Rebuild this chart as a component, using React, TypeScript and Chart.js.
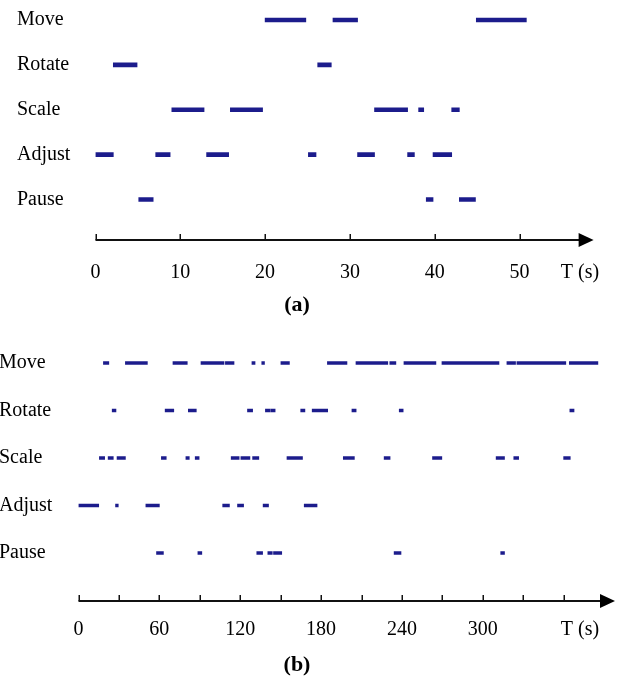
import React, { useEffect, useRef } from "react";
import { Chart, registerables } from "chart.js";

Chart.register(...registerables);

// ---------- data ----------
const rowLabels = ["Move", "Rotate", "Scale", "Adjust", "Pause"];

// Panel (a): time intervals in seconds
const moveA = [[20, 24.8], [28, 30.9], [44.9, 50.8]];
const rotateA = [[2.1, 4.9], [26.2, 27.8]];
const scaleA = [[9, 12.8], [15.9, 19.7], [32.9, 36.8], [38.1, 38.7], [42, 42.9]];
const adjustA = [[0, 2.1], [7.1, 8.8], [13.1, 15.7], [25.1, 26], [30.9, 32.9], [36.8, 37.6], [39.8, 42]];
const pauseA = [[5.1, 6.8], [39, 39.8], [42.9, 44.8]];
const tickLabelsA = [0, 10, 20, 30, 40, 50];
const tickMarksA = [0, 10, 20, 30, 40, 50];

// Panel (b)
const moveB = [[18.5, 22.5], [34.8, 51.1], [70.1, 80.7], [90.9, 108], [109, 115.4], [128.7, 131], [136, 138], [150.2, 156.5], [184.7, 199.2], [205.9, 229.5], [231, 235.5], [241.5, 265.2], [269.7, 312], [317.9, 324.3], [325.3, 361.6], [364.2, 385.4]];
const rotateB = [[25, 27.8], [64.3, 70.7], [81.5, 87.4], [125.4, 129.2], [138.7, 142], [142.6, 145.9], [164.9, 168], [173.4, 184.9], [202.9, 206], [238, 240.9], [364.6, 367.7]];
const scaleB = [[15.5, 19.4], [22, 25.8], [28.6, 34.8], [61.5, 65.1], [79.7, 82.2], [86.6, 89.5], [113.3, 119.2], [120.5, 127.2], [129.2, 133.8], [154.7, 166.2], [196.5, 204.7], [226.8, 231.2], [262.7, 269.6], [309.9, 316.1], [323, 326.6], [360, 364.9]];
const adjustB = [[0, 15], [27.5, 29.5], [50, 60], [107, 112], [118, 122.5], [137, 141], [167.5, 177]];
const pauseB = [[57.9, 63], [88.6, 91.5], [132.3, 136.6], [140.5, 143.8], [144.7, 150.8], [234.2, 239.3], [313.3, 316.1]];
const tickLabelsB = [0, 60, 120, 180, 240, 300];
const tickMarksB = [0, 30, 60, 90, 120, 150, 180, 210, 240, 270, 300, 330, 360];

const SEG_COLOR = "#1c1c8c";
const FONT = '"Liberation Serif", "Times New Roman", serif';

type Panel = {
  rows: number[][][];
  tickLabels: number[];
  tickMarks: number[];
  xMax: number;
  yMin: number;
  yMax: number;
  padLeft: number;
  padRight: number;
  yWidth: number;
  xHeight: number;
  tickPad: number;
  barThickness: number;
  tText: [number, number];
  panelText: string;
  panelPos: [number, number];
  height: number;
};

function makeArrowAxis(p: Panel) {
  return {
    id: "arrowAxis",
    afterDraw(chart: any) {
      const { ctx, chartArea } = chart;
      const xs = chart.scales.x;
      const y = chartArea.bottom;
      const x0 = xs.getPixelForValue(0);
      const tip = chartArea.right;
      ctx.save();
      ctx.strokeStyle = "#111";
      ctx.lineWidth = 2;
      ctx.beginPath();
      ctx.moveTo(x0, y);
      ctx.lineTo(tip - 10, y);
      ctx.stroke();
      ctx.lineWidth = 1.5;
      p.tickMarks.forEach((v) => {
        const px = Math.round(xs.getPixelForValue(v)) + 0.25;
        ctx.beginPath();
        ctx.moveTo(px, y);
        ctx.lineTo(px, y - 6);
        ctx.stroke();
      });
      ctx.fillStyle = "#000";
      ctx.beginPath();
      ctx.moveTo(tip, y);
      ctx.lineTo(tip - 15, y - 7);
      ctx.lineTo(tip - 15, y + 7);
      ctx.closePath();
      ctx.fill();
      ctx.textAlign = "center";
      ctx.textBaseline = "middle";
      ctx.font = `20px ${FONT}`;
      ctx.fillText("T (s)", p.tText[0], p.tText[1]);
      ctx.font = `bold 22px ${FONT}`;
      ctx.fillText(p.panelText, p.panelPos[0], p.panelPos[1]);
      ctx.restore();
    },
  };
}

function PanelChart({ p, top }: { p: Panel; top: number }) {
  const ref = useRef<HTMLCanvasElement | null>(null);
  useEffect(() => {
    if (!ref.current) return;
    const datasets = p.rows.map((segs, i) => ({
      label: rowLabels[i],
      data: segs.map((s) => ({ x: s, y: i })),
      backgroundColor: SEG_COLOR,
      borderWidth: 0,
      barThickness: p.barThickness,
      grouped: false,
    }));
    const chart = new Chart(ref.current, {
      type: "bar",
      data: { datasets } as any,
      plugins: [makeArrowAxis(p)],
      options: {
        animation: false,
        responsive: false,
        indexAxis: "y",
        layout: { padding: { left: p.padLeft, right: p.padRight, top: 0, bottom: 0 } },
        plugins: { legend: { display: false }, tooltip: { enabled: false } },
        scales: {
          x: {
            type: "linear",
            min: 0,
            max: p.xMax,
            offset: false,
            grid: { display: false, drawTicks: false, offset: false },
            border: { display: false },
            ticks: {
              color: "#000",
              font: { family: FONT, size: 20 },
              padding: p.tickPad,
              maxRotation: 0,
              autoSkip: false,
              includeBounds: false,
              callback: (v: any) => String(v),
            },
            afterBuildTicks: (s: any) => {
              s.ticks = p.tickLabels.map((v) => ({ value: v }));
            },
            afterFit: (s: any) => {
              s.height = p.xHeight;
            },
          },
          y: {
            type: "linear",
            reverse: true,
            min: p.yMin,
            max: p.yMax,
            offset: false,
            grid: { display: false, drawTicks: false, offset: false },
            border: { display: false },
            ticks: {
              color: "#000",
              crossAlign: "far",
              padding: 0,
              autoSkip: false,
              includeBounds: false,
              font: { family: FONT, size: 20 },
              callback: (v: any) => rowLabels[v] ?? "",
            },
            afterBuildTicks: (s: any) => {
              s.ticks = rowLabels.map((_, i) => ({ value: i }));
            },
            afterFit: (s: any) => {
              s.width = p.yWidth;
              s.paddingTop = 0;
              s.paddingBottom = 0;
            },
          },
        },
      } as any,
    });
    return () => chart.destroy();
  }, [p]);
  return (
    <canvas
      ref={ref}
      width={617}
      height={p.height}
      style={{ position: "absolute", left: 0, top, width: 617, height: p.height, display: "block" }}
    />
  );
}

// panel (a): rows at 20..200, axis at 240
const panelA: Panel = {
  rows: [moveA, rotateA, scaleA, adjustA, pauseA],
  tickLabels: tickLabelsA,
  tickMarks: tickMarksA,
  xMax: 58.73,
  yMin: -0.4457,
  yMax: 4.903,
  padLeft: 17,
  padRight: 23.4,
  yWidth: 78.5,
  xHeight: 80,
  tickPad: 21,
  barThickness: 4,
  tText: [580, 273],
  panelText: "(a)",
  panelPos: [297, 305],
  height: 320,
};

// panel (b): canvas top 320; rows at 363..553, axis at 601
const panelB: Panel = {
  rows: [moveB, rotateB, scaleB, adjustB, pauseB],
  tickLabels: tickLabelsB,
  tickMarks: tickMarksB,
  xMax: 398.1,
  yMin: -0.905,
  yMax: 5.011,
  padLeft: -1,
  padRight: 2,
  yWidth: 79.5,
  xHeight: 77,
  tickPad: 17,
  barThickness: 3,
  tText: [580, 310],
  panelText: "(b)",
  panelPos: [297, 345],
  height: 358,
};

export default function App() {
  return (
    <div style={{ position: "absolute", left: 0, top: 0, width: 617, height: 678, background: "#fff" }}>
      <PanelChart p={panelA} top={0} />
      <PanelChart p={panelB} top={320} />
    </div>
  );
}
